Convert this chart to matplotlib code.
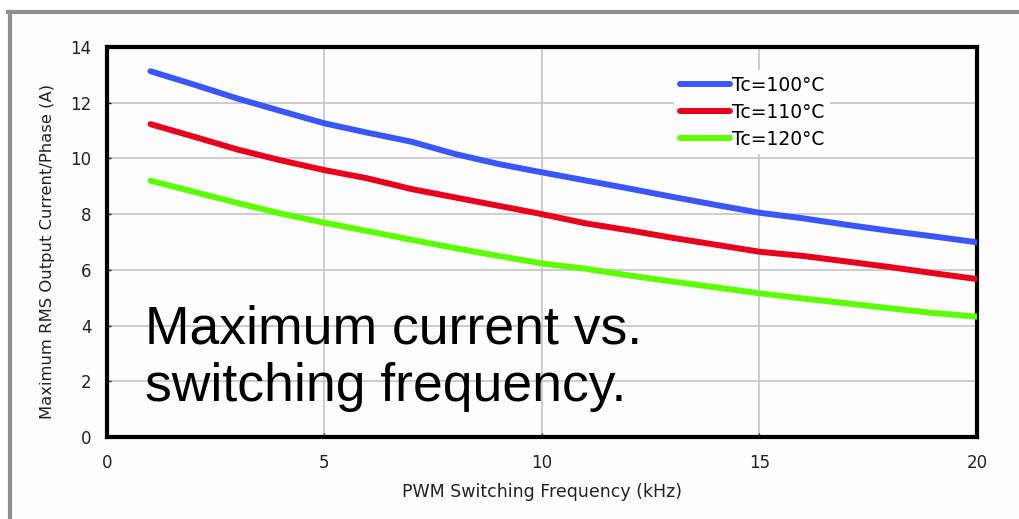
import matplotlib
matplotlib.use("Agg")
import matplotlib.pyplot as plt
from matplotlib.lines import Line2D

freq_khz = [1, 2, 3, 4, 5, 6, 7, 8, 9, 10, 11, 12, 13, 14, 15, 16, 17, 18, 19, 20]
tc100 = [13.13, 12.65, 12.15, 11.70, 11.26, 10.92, 10.60, 10.16, 9.80, 9.50,
         9.21, 8.92, 8.62, 8.33, 8.05, 7.85, 7.62, 7.40, 7.20, 6.99]
tc110 = [11.23, 10.78, 10.32, 9.93, 9.58, 9.28, 8.90, 8.60, 8.30, 8.00,
         7.67, 7.42, 7.15, 6.90, 6.65, 6.50, 6.30, 6.10, 5.88, 5.67]
tc120 = [9.20, 8.80, 8.40, 8.02, 7.69, 7.39, 7.08, 6.78, 6.50, 6.23,
         6.04, 5.80, 5.58, 5.37, 5.16, 4.97, 4.80, 4.62, 4.45, 4.32]
series_labels = ["Tc=100°C", "Tc=110°C", "Tc=120°C"]
series_colors = ["#3a56ff", "#e8001c", "#5cff00"]
x_ticks = [0, 5, 10, 15, 20]
y_ticks = [0, 2, 4, 6, 8, 10, 12, 14]

fig = plt.figure(figsize=(10.2, 5.19), dpi=100)
fig.patch.set_facecolor("white")
# inner panel background & gray frame
fig.add_artist(plt.Rectangle((10/1020, 0), 1 - 10/1020, 1 - 12/519,
                             transform=fig.transFigure, facecolor="#fdfdfd",
                             edgecolor="none", zorder=-10))
fig.add_artist(Line2D([10/1020, 10/1020], [0, 1 - 11.5/519], transform=fig.transFigure,
                      color="#909090", linewidth=3))
fig.add_artist(Line2D([8.5/1020, 1], [1 - 11.5/519, 1 - 11.5/519], transform=fig.transFigure,
                      color="#909090", linewidth=3))

ax = fig.add_axes([107/1020, 1 - 437/519, 870/1020, 390/519])
ax.set_facecolor("#fdfdfd")
for ys, lab, col in zip([tc100, tc110, tc120], series_labels, series_colors):
    ax.plot(freq_khz, ys, color=col, linewidth=4.3, label=lab,
            solid_capstyle="round", zorder=3)

ax.set_xlim(0, 20)
ax.set_ylim(0, 14)
ax.set_xticks(x_ticks)
ax.set_yticks(y_ticks)
ax.grid(True, color="#c4c4c4", linewidth=1.2)
ax.set_axisbelow(True)
for s in ax.spines.values():
    s.set_linewidth(3)
    s.set_color("black")
ax.tick_params(axis="both", direction="in", length=3, width=1, colors="#222222",
               labelsize=12)
ax.tick_params(axis="y", pad=11)
ax.tick_params(axis="x", pad=12)

ax.set_xlabel("PWM Switching Frequency (kHz)", fontsize=12.5, color="#222222")
ax.set_ylabel("Maximum RMS Output Current/Phase (A)", fontsize=11.8, color="#222222")
ax.xaxis.set_label_coords(0.5, -0.142)
ax.yaxis.set_label_coords(-0.068, 0.477)
ax.xaxis.label.set_va("center")
ax.yaxis.label.set_va("center")

leg = ax.legend(loc="upper left", bbox_to_anchor=(0.652, 0.94), frameon=True,
                fontsize=13.5, handlelength=2.65, handletextpad=0.15,
                labelspacing=0.42, borderpad=0.3, borderaxespad=0)
leg.get_frame().set_facecolor("#fdfdfd")
leg.get_frame().set_edgecolor("none")
leg.get_frame().set_alpha(1)

ax.text(0.044, 0.34, "Maximum current vs.\nswitching frequency.",
        transform=ax.transAxes, fontsize=38.5, family="Liberation Sans",
        color="black", va="top", ha="left", linespacing=1.2, zorder=5)

fig.savefig("out.png", dpi=100)
